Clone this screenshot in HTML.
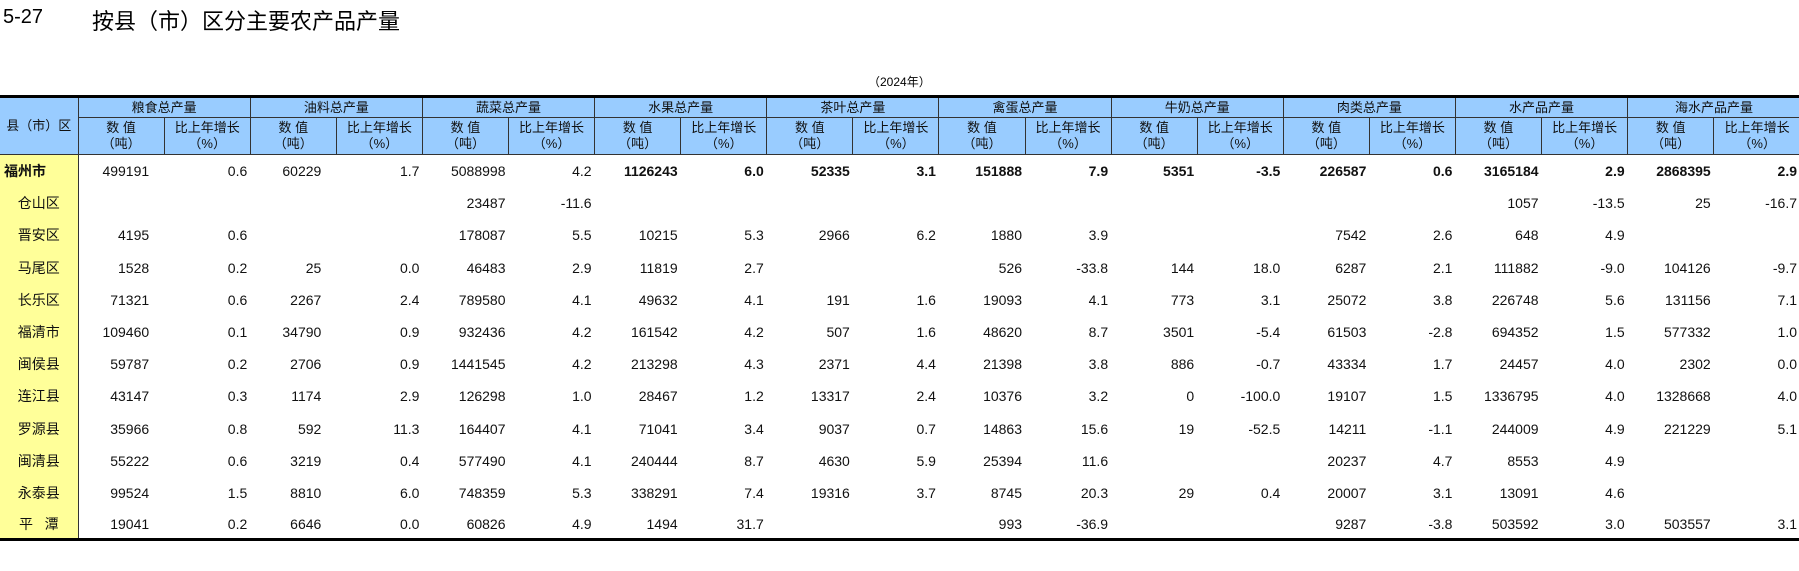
<!DOCTYPE html>
<html><head><meta charset="utf-8"><style>
body{margin:0;width:1799px;height:571px;background:#fff;overflow:hidden;position:relative;font-family:"Liberation Sans Narrow","Liberation Sans","Noto Sans CJK SC",sans-serif;}
.t1{position:absolute;left:3px;top:6px;font-size:20px;font-family:"Liberation Sans","Noto Sans CJK SC",sans-serif;}
.t2{position:absolute;left:92px;top:4px;font-size:22px;font-family:"Liberation Sans","Noto Sans CJK SC",sans-serif;}
.yr{position:absolute;left:868px;top:73px;font-size:12px;font-family:"Liberation Sans","Noto Sans CJK SC",sans-serif;}
table{position:absolute;left:0;top:95px;border-collapse:collapse;table-layout:fixed;width:1800px;}
td{padding:0;}
.h td{background:#99ccff;border:1px solid #333;text-align:center;font-size:13px;font-family:"Liberation Sans","Noto Sans CJK SC",sans-serif;line-height:16px;color:#111;}
tr.top td{border-top:3px solid #000;height:19px;}
tr.h2 td{height:36px;}
.d td{height:32.2px;text-align:right;font-size:14px;color:#111;}
.d td.n{padding-right:3px;}
.d td.p{padding-right:3px;}
.d td.n.w{padding-right:15px;}
.d td.l{background:#ffff99;text-align:center;border-right:1px solid #333;font-family:"Liberation Sans","Noto Sans CJK SC",sans-serif;font-size:14px;}
.d.b td{font-weight:bold;}
.d.b td.l{text-align:left;padding-left:4px;}
tr.last td{border-bottom:3px solid #000;height:29px;}
</style></head><body>
<div class="t1">5-27</div>
<div class="t2">按县（市）区分主要农产品产量</div>
<div class="yr">（2024年）</div>
<table>
<colgroup><col style="width:78px"><col span="20" style="width:86px"></colgroup>
<tr class="h top"><td rowspan="2" style="border-left:none">县（市）区</td><td colspan="2">粮食总产量</td><td colspan="2">油料总产量</td><td colspan="2">蔬菜总产量</td><td colspan="2">水果总产量</td><td colspan="2">茶叶总产量</td><td colspan="2">禽蛋总产量</td><td colspan="2">牛奶总产量</td><td colspan="2">肉类总产量</td><td colspan="2">水产品产量</td><td colspan="2" style="border-right:none">海水产品产量</td></tr>
<tr class="h h2">
<td>数 值<br>（吨）</td><td>比上年增长<br>（%）</td><td>数 值<br>（吨）</td><td>比上年增长<br>（%）</td><td>数 值<br>（吨）</td><td>比上年增长<br>（%）</td><td>数 值<br>（吨）</td><td>比上年增长<br>（%）</td><td>数 值<br>（吨）</td><td>比上年增长<br>（%）</td><td>数 值<br>（吨）</td><td>比上年增长<br>（%）</td><td>数 值<br>（吨）</td><td>比上年增长<br>（%）</td><td>数 值<br>（吨）</td><td>比上年增长<br>（%）</td><td>数 值<br>（吨）</td><td>比上年增长<br>（%）</td><td>数 值<br>（吨）</td><td style="border-right:none">比上年增长<br>（%）</td></tr>
<tr class="d b"><td class="l">福州市</td><td class="n w" style="font-weight:normal">499191</td><td class="p" style="font-weight:normal">0.6</td><td class="n w" style="font-weight:normal">60229</td><td class="p" style="font-weight:normal">1.7</td><td class="n" style="font-weight:normal">5088998</td><td class="p" style="font-weight:normal">4.2</td><td class="n">1126243</td><td class="p">6.0</td><td class="n">52335</td><td class="p">3.1</td><td class="n">151888</td><td class="p">7.9</td><td class="n">5351</td><td class="p">-3.5</td><td class="n">226587</td><td class="p">0.6</td><td class="n">3165184</td><td class="p">2.9</td><td class="n">2868395</td><td class="p">2.9</td></tr>
<tr class="d"><td class="l">仓山区</td><td class="n w"></td><td class="p"></td><td class="n w"></td><td class="p"></td><td class="n">23487</td><td class="p">-11.6</td><td class="n"></td><td class="p"></td><td class="n"></td><td class="p"></td><td class="n"></td><td class="p"></td><td class="n"></td><td class="p"></td><td class="n"></td><td class="p"></td><td class="n">1057</td><td class="p">-13.5</td><td class="n">25</td><td class="p">-16.7</td></tr>
<tr class="d"><td class="l">晋安区</td><td class="n w">4195</td><td class="p">0.6</td><td class="n w"></td><td class="p"></td><td class="n">178087</td><td class="p">5.5</td><td class="n">10215</td><td class="p">5.3</td><td class="n">2966</td><td class="p">6.2</td><td class="n">1880</td><td class="p">3.9</td><td class="n"></td><td class="p"></td><td class="n">7542</td><td class="p">2.6</td><td class="n">648</td><td class="p">4.9</td><td class="n"></td><td class="p"></td></tr>
<tr class="d"><td class="l">马尾区</td><td class="n w">1528</td><td class="p">0.2</td><td class="n w">25</td><td class="p">0.0</td><td class="n">46483</td><td class="p">2.9</td><td class="n">11819</td><td class="p">2.7</td><td class="n"></td><td class="p"></td><td class="n">526</td><td class="p">-33.8</td><td class="n">144</td><td class="p">18.0</td><td class="n">6287</td><td class="p">2.1</td><td class="n">111882</td><td class="p">-9.0</td><td class="n">104126</td><td class="p">-9.7</td></tr>
<tr class="d"><td class="l">长乐区</td><td class="n w">71321</td><td class="p">0.6</td><td class="n w">2267</td><td class="p">2.4</td><td class="n">789580</td><td class="p">4.1</td><td class="n">49632</td><td class="p">4.1</td><td class="n">191</td><td class="p">1.6</td><td class="n">19093</td><td class="p">4.1</td><td class="n">773</td><td class="p">3.1</td><td class="n">25072</td><td class="p">3.8</td><td class="n">226748</td><td class="p">5.6</td><td class="n">131156</td><td class="p">7.1</td></tr>
<tr class="d"><td class="l">福清市</td><td class="n w">109460</td><td class="p">0.1</td><td class="n w">34790</td><td class="p">0.9</td><td class="n">932436</td><td class="p">4.2</td><td class="n">161542</td><td class="p">4.2</td><td class="n">507</td><td class="p">1.6</td><td class="n">48620</td><td class="p">8.7</td><td class="n">3501</td><td class="p">-5.4</td><td class="n">61503</td><td class="p">-2.8</td><td class="n">694352</td><td class="p">1.5</td><td class="n">577332</td><td class="p">1.0</td></tr>
<tr class="d"><td class="l">闽侯县</td><td class="n w">59787</td><td class="p">0.2</td><td class="n w">2706</td><td class="p">0.9</td><td class="n">1441545</td><td class="p">4.2</td><td class="n">213298</td><td class="p">4.3</td><td class="n">2371</td><td class="p">4.4</td><td class="n">21398</td><td class="p">3.8</td><td class="n">886</td><td class="p">-0.7</td><td class="n">43334</td><td class="p">1.7</td><td class="n">24457</td><td class="p">4.0</td><td class="n">2302</td><td class="p">0.0</td></tr>
<tr class="d"><td class="l">连江县</td><td class="n w">43147</td><td class="p">0.3</td><td class="n w">1174</td><td class="p">2.9</td><td class="n">126298</td><td class="p">1.0</td><td class="n">28467</td><td class="p">1.2</td><td class="n">13317</td><td class="p">2.4</td><td class="n">10376</td><td class="p">3.2</td><td class="n">0</td><td class="p">-100.0</td><td class="n">19107</td><td class="p">1.5</td><td class="n">1336795</td><td class="p">4.0</td><td class="n">1328668</td><td class="p">4.0</td></tr>
<tr class="d"><td class="l">罗源县</td><td class="n w">35966</td><td class="p">0.8</td><td class="n w">592</td><td class="p">11.3</td><td class="n">164407</td><td class="p">4.1</td><td class="n">71041</td><td class="p">3.4</td><td class="n">9037</td><td class="p">0.7</td><td class="n">14863</td><td class="p">15.6</td><td class="n">19</td><td class="p">-52.5</td><td class="n">14211</td><td class="p">-1.1</td><td class="n">244009</td><td class="p">4.9</td><td class="n">221229</td><td class="p">5.1</td></tr>
<tr class="d"><td class="l">闽清县</td><td class="n w">55222</td><td class="p">0.6</td><td class="n w">3219</td><td class="p">0.4</td><td class="n">577490</td><td class="p">4.1</td><td class="n">240444</td><td class="p">8.7</td><td class="n">4630</td><td class="p">5.9</td><td class="n">25394</td><td class="p">11.6</td><td class="n"></td><td class="p"></td><td class="n">20237</td><td class="p">4.7</td><td class="n">8553</td><td class="p">4.9</td><td class="n"></td><td class="p"></td></tr>
<tr class="d"><td class="l">永泰县</td><td class="n w">99524</td><td class="p">1.5</td><td class="n w">8810</td><td class="p">6.0</td><td class="n">748359</td><td class="p">5.3</td><td class="n">338291</td><td class="p">7.4</td><td class="n">19316</td><td class="p">3.7</td><td class="n">8745</td><td class="p">20.3</td><td class="n">29</td><td class="p">0.4</td><td class="n">20007</td><td class="p">3.1</td><td class="n">13091</td><td class="p">4.6</td><td class="n"></td><td class="p"></td></tr>
<tr class="d last"><td class="l">平&nbsp;&nbsp;&nbsp;潭</td><td class="n w">19041</td><td class="p">0.2</td><td class="n w">6646</td><td class="p">0.0</td><td class="n">60826</td><td class="p">4.9</td><td class="n">1494</td><td class="p">31.7</td><td class="n"></td><td class="p"></td><td class="n">993</td><td class="p">-36.9</td><td class="n"></td><td class="p"></td><td class="n">9287</td><td class="p">-3.8</td><td class="n">503592</td><td class="p">3.0</td><td class="n">503557</td><td class="p">3.1</td></tr>
</table>
</body></html>
